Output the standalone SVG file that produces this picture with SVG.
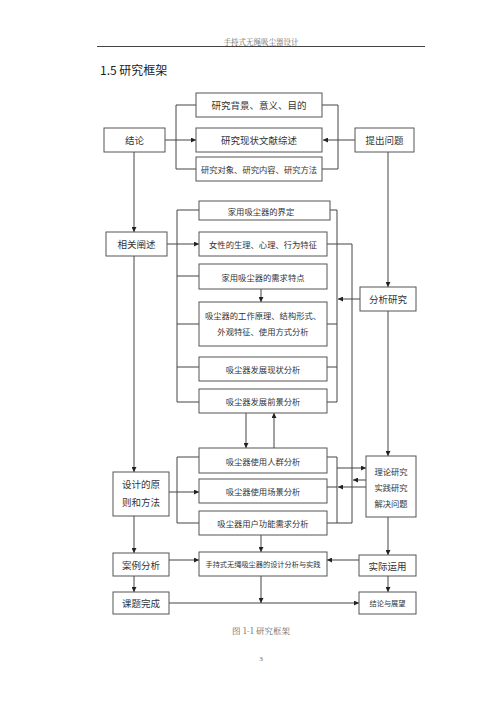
<svg xmlns="http://www.w3.org/2000/svg" width="500" height="707" viewBox="0 0 500 707">
<defs>
<marker id="ah" viewBox="0 0 6 6" refX="6" refY="3" markerWidth="5" markerHeight="5" orient="auto" markerUnits="userSpaceOnUse">
<path d="M0,0 L6,3 L0,6 z" fill="#222"/>
</marker>
<style>
.box{fill:#fff;stroke:#555;stroke-width:1}
.t{font-family:"Noto Sans CJK SC","Noto Sans",sans-serif;fill:#333;text-anchor:middle;dominant-baseline:central}
.s9{font-size:9.5px}
.s8{font-size:8.3px}
.s7{font-size:7.2px}
.ln{fill:none;stroke:#444;stroke-width:1}
.ar{fill:none;stroke:#444;stroke-width:1;marker-end:url(#ah)}
</style>
</defs>
<rect width="500" height="707" fill="#fff"/>
<text x="261" y="41" font-family="'Noto Serif CJK SC','Liberation Serif',serif" font-size="7.5" fill="#666" text-anchor="middle" dominant-baseline="central">手持式无绳吸尘器设计</text>
<line x1="97" y1="46.5" x2="425" y2="46.5" stroke="#444" stroke-width="1"/>
<text x="100" y="75" font-family="'Noto Sans CJK SC','Noto Sans',sans-serif" font-size="12" fill="#222">1.5 研究框架</text>

<g id="connectors">
<path class="ln" d="M196,105 H176 V169 H196"/>
<path class="ar" d="M165,140 H196"/>
<path class="ln" d="M322,105 H338 V169 H322"/>
<path class="ar" d="M355,140 H323"/>
<path class="ar" d="M134,152 V232"/>
<path class="ar" d="M388,152 V287"/>
<path class="ar" d="M167,244 H199"/>
<path class="ln" d="M199,210 H177 V402 H199 M177,276 H199 M177,324 H199 M177,367 H199"/>
<path class="ln" d="M330,210 H337 V402 H327 M327,324 H337 M327,367 H337"/>
<path class="ln" d="M327,244 H352 V523 H327"/>
<path class="ar" d="M360,299 H338"/>
<path class="ar" d="M261,289 V302"/>
<path class="ar" d="M246,413 V448"/>
<path class="ar" d="M274,448 V413"/>
<path class="ar" d="M134,256 V472"/>
<path class="ar" d="M388,311 V456"/>
<path class="ln" d="M199,457 H177 V523 H199"/>
<path class="ar" d="M169,492 H199"/>
<path class="ln" d="M327,457 H337 V523 M327,487 H337"/>
<path class="ar" d="M337,468 H366"/>
<path class="ar" d="M366,480 H353"/>
<path class="ar" d="M366,487 H338"/>
<path class="ar" d="M134,516 V553"/>
<path class="ar" d="M388,517 V555"/>
<path class="ar" d="M261,535 V552"/>
<path class="ar" d="M169,560 H199"/>
<path class="ar" d="M359,560 H327"/>
<path class="ar" d="M134,576 V592"/>
<path class="ar" d="M388,576 V592"/>
<path class="ar" d="M261,576 V603"/>
<path class="ar" d="M169,603 H359"/>
</g>

<g id="n1"><rect class="box" x="196" y="93" width="126" height="24"/><text class="t s9" x="259" y="105">研究背景、意义、目的</text></g>
<g id="n2"><rect class="box" x="196" y="128" width="126" height="24"/><text class="t s9" x="259" y="140">研究现状文献综述</text></g>
<g id="n3"><rect class="box" x="196" y="157" width="126" height="24"/><text class="t s8" x="259" y="169">研究对象、研究内容、研究方法</text></g>
<g id="n4"><rect class="box" x="104" y="128" width="61" height="24"/><text class="t s9" x="134.5" y="140">结论</text></g>
<g id="n5"><rect class="box" x="355" y="128" width="59" height="24"/><text class="t s9" x="384.5" y="140">提出问题</text></g>
<g id="n6"><rect class="box" x="199" y="201" width="131" height="19"/><text class="t s8" x="261" y="210.5">家用吸尘器的界定</text></g>
<g id="n7"><rect class="box" x="106" y="232" width="61" height="24"/><text class="t s9" x="136.5" y="244">相关阐述</text></g>
<g id="n8"><rect class="box" x="199" y="232" width="128" height="24"/><text class="t s8" x="263" y="244">女性的生理、心理、行为特征</text></g>
<g id="n9"><rect class="box" x="199" y="264" width="128" height="25"/><text class="t s8" x="263" y="276.5">家用吸尘器的需求特点</text></g>
<g id="n10"><rect class="box" x="360" y="287" width="56" height="24"/><text class="t s9" x="388" y="299">分析研究</text></g>
<g id="n11"><rect class="box" x="199" y="302" width="128" height="44"/><text class="t s8" x="263" y="315">吸尘器的工作原理、结构形式、</text><text class="t s8" x="263" y="331">外观特征、使用方式分析</text></g>
<g id="n12"><rect class="box" x="199" y="357" width="128" height="24"/><text class="t s8" x="263" y="369">吸尘器发展现状分析</text></g>
<g id="n13"><rect class="box" x="199" y="389" width="128" height="24"/><text class="t s8" x="263" y="401">吸尘器发展前景分析</text></g>
<g id="n14"><rect class="box" x="199" y="448" width="128" height="25"/><text class="t s8" x="263" y="460.5">吸尘器使用人群分析</text></g>
<g id="n15"><rect class="box" x="113" y="472" width="56" height="44"/><text class="t s9" x="141" y="484">设计的原</text><text class="t s9" x="141" y="502">则和方法</text></g>
<g id="n16"><rect class="box" x="199" y="479" width="128" height="24"/><text class="t s8" x="263" y="491">吸尘器使用场景分析</text></g>
<g id="n17"><rect class="box" x="199" y="511" width="128" height="24"/><text class="t s8" x="263" y="523">吸尘器用户功能需求分析</text></g>
<g id="n18"><rect class="box" x="366" y="456" width="50" height="61"/><text class="t s8" x="391" y="471">理论研究</text><text class="t s8" x="391" y="487">实践研究</text><text class="t s8" x="391" y="503">解决问题</text></g>
<g id="n19"><rect class="box" x="113" y="553" width="56" height="23"/><text class="t s9" x="141" y="564.5">案例分析</text></g>
<g id="n20"><rect class="box" x="199" y="552" width="128" height="24"/><text class="t s7" x="263" y="564">手持式无绳吸尘器的设计分析与实践</text></g>
<g id="n21"><rect class="box" x="359" y="555" width="57" height="21"/><text class="t s9" x="387.5" y="565.5">实际运用</text></g>
<g id="n22"><rect class="box" x="113" y="592" width="56" height="22"/><text class="t s9" x="141" y="603">课题完成</text></g>
<g id="n23"><rect class="box" x="359" y="592" width="57" height="22"/><text class="t s7" x="387.5" y="603">结论与展望</text></g>

<text x="261" y="630" font-family="'Noto Serif CJK SC','Liberation Serif',serif" font-size="8.5" fill="#666" text-anchor="middle" dominant-baseline="central">图 1-1 研究框架</text>
<text x="261" y="659" font-family="'Liberation Serif',serif" font-size="7" fill="#666" text-anchor="middle" dominant-baseline="central">3</text>
</svg>
